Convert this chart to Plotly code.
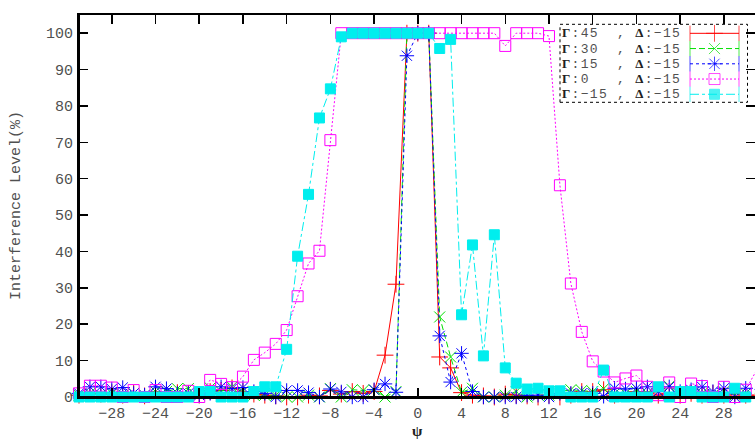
import plotly.graph_objects as go

# ---------------- data ----------------
psi = list(range(-31, 32))

gamma45 = [0.5, 1.0, 0.8, 1.2, 0.5, 1.0, 0.3, 1.5, 0.8, 1.2, 1.0, 0.5, 1.5, 1.8, 2.5, 1.5,
           0.8, 0.5, 0.3, 0.0, 0.0, 0.5, 0.3, 1.8, 0.8, 1.5, 1.0, 1.5, 11.5, 31.0, 100, 100,
           100, 11.0, 8.0, 1.2, 0.5, 0.3, 0.0, 0.8, 0.5, 0.3, 0.0, 0.5, 0.0, 0.5, 1.5, 1.5,
           2.0, 0.5, 1.0, 1.5, 1.5, 0.5, 1.0, 0.5, 1.0, 0.5, 1.0, 0.5, 1.0, 0.5, 0.5]

gamma30 = [0.5, 1.0, 0.5, 1.0, 0.5, 1.0, 0.5, 1.5, 1.5, 2.3, 2.3, 1.0, 2.5, 1.5, 2.8, 1.5,
           0.5, 0.5, 0.5, 0.0, 0.0, 0.5, 0.0, 2.3, 0.0, 2.0, 1.8, 2.0, 0.0, 1.5, 100, 100,
           100, 22.0, 11.0, 1.3, 2.4, 0.0, 0.0, 0.5, 1.5, 0.0, 0.5, 0.5, 1.5, 2.0, 1.8, 1.5,
           2.3, 1.0, 1.0, 1.5, 1.0, 1.5, 3.0, 1.0, 1.5, 1.0, 0.5, 1.5, 0.5, 1.0, 1.0]

gamma15 = [1.0, 2.8, 2.8, 2.2, 2.6, 1.0, 0.5, 2.8, 2.3, 1.0, 1.0, 0.5, 1.0, 2.8, 2.3, 2.6,
           1.5, 1.0, 0.0, 1.8, 1.8, 1.2, 0.0, 2.2, 1.4, 0.0, 0.0, 2.0, 3.6, 1.3, 93.8, 100,
           100, 16.8, 4.1, 12.0, 1.5, 0.0, 0.0, 0.0, 0.0, 0.5, 0.5, 0.0, 1.0, 1.0, 1.0, 1.0,
           0.2, 2.4, 2.2, 2.4, 2.8, 1.5, 2.8, 1.5, 2.0, 2.8, 1.5, 2.4, 0.0, 2.4, 2.0]

gamma0 = [1.0, 3.1, 3.1, 2.6, 0.0, 1.9, 0.0, 1.9, 0.0, 0.0, 1.7, 0.0, 4.7, 3.6, 2.7, 5.6,
          10.2, 12.2, 14.6, 18.4, 27.7, 36.7, 40.2, 70.6, 100, 100, 100, 100, 100, 100, 100, 100,
          100, 100, 100, 100, 100, 100, 100, 96.5, 100, 100, 100, 99.2, 58.2, 31.2, 17.9, 9.8,
          7.0, 4.0, 5.1, 5.9, 2.8, 0.5, 4.0, 0.0, 3.7, 3.0, 0.0, 2.8, 0.0, 2.0, 7.4]

gamma_m15 = [0.0, 0.0, 0.0, 0.0, 0.0, 0.0, 0.0, 0.0, 0.0, 0.0, 0.0, 1.5, 1.5, 0.0, 0.0, 0.0,
             1.5, 2.8, 2.8, 13.1, 38.7, 55.7, 76.7, 84.7, 99.0, 100, 100, 100, 100, 100, 100, 100,
             100, 95.8, 98.3, 22.6, 41.8, 11.3, 44.6, 8.0, 3.8, 2.2, 2.4, 1.7, 1.7, 0.0, 0.0, 0.0,
             7.4, 0.0, 0.0, 0.0, 0.0, 2.8, 0.0, 1.5, 1.5, 0.0, 0.0, 0.0, 2.4, 0.0, 0.0]

series_labels = ["45", "30", "15", "0", "\u221215"]
delta_label = "\u221215"

x_ticks = list(range(-28, 29, 4))
y_ticks = list(range(0, 101, 10))

# ---------------- styling ----------------
W, H = 755, 441
ML, MR, MT, MB = 79, 0, 15, 44
PW, PH = W - ML - MR, H - MT - MB

def fx(p):
    return (p - ML) / PW

def fy(p):
    return (H - MB - p) / PH

FONT = "Liberation Mono"
TXT = "#505050"

styles = [
    dict(color="#ff0000", dash="solid", symbol="cross-thin-open", size=12),
    dict(color="#00e000", dash="6px,3px", symbol="x-thin-open", size=11),
    dict(color="#0000ff", dash="3px,3px", symbol="asterisk-open", size=12),
    dict(color="#ff00ff", dash="2px,2px", symbol="square-open", size=11),
    dict(color="#00eeee", dash="dashdot", symbol="square", size=10),
]
data = [gamma45, gamma30, gamma15, gamma0, gamma_m15]

fig = go.Figure()

for vals, st in zip(data, styles):
    fig.add_trace(go.Scatter(
        x=psi, y=vals, mode="lines+markers", cliponaxis=False, showlegend=False,
        line=dict(color=st["color"], width=1, dash=st["dash"]),
        marker=dict(symbol=st["symbol"], size=st["size"], color=st["color"],
                    line=dict(color=st["color"], width=1)),
    ))

# right-hand ticks without a visible line
fig.add_trace(go.Scatter(x=[None], y=[None], yaxis="y3", showlegend=False, hoverinfo="skip"))

# legend samples (drawn in a small helper axis)
for i, st in enumerate(styles):
    fig.add_trace(go.Scatter(
        x=[0, 0.5, 1], y=[i, i, i], xaxis="x2", yaxis="y2", mode="lines+markers",
        showlegend=False, cliponaxis=False, hoverinfo="skip",
        line=dict(color=st["color"], width=1, dash=st["dash"]),
        marker=dict(symbol=["line-ns-open", st["symbol"], "line-ns-open"],
                    size=[11, st["size"], 11], color=st["color"],
                    line=dict(color=st["color"], width=1)),
    ))

axis_common = dict(showgrid=False, zeroline=False, linecolor="black", linewidth=2,
                   ticks="inside", ticklen=9, tickwidth=1.5, tickcolor="black",
                   tickfont=dict(family=FONT, size=15, color=TXT))

fig.update_layout(
    width=W, height=H, margin=dict(l=ML, r=MR, t=MT, b=MB),
    paper_bgcolor="white", plot_bgcolor="white", showlegend=False,
    xaxis=dict(range=[-31, -31 + PW / 10.93], tickmode="array", tickvals=x_ticks,
               ticktext=[str(v).replace("-", "\u2212") for v in x_ticks],
               showline=True, mirror="ticks", ticklabelstandoff=1, **axis_common),
    yaxis=dict(range=[0, 105], tickmode="array", tickvals=y_ticks,
               ticktext=[str(v) for v in y_ticks], showline=True, mirror=False,
               ticklabelstandoff=1, **axis_common),
    yaxis3=dict(range=[0, 105], overlaying="y", side="right", anchor="x",
                tickmode="array", tickvals=y_ticks, showticklabels=False, showline=False,
                showgrid=False, zeroline=False, ticks="inside", ticklen=9, tickwidth=1.5,
                tickcolor="black"),
    xaxis2=dict(domain=[fx(690), fx(739)], range=[0, 1], anchor="y2", visible=False,
                fixedrange=True),
    yaxis2=dict(domain=[fy(101.9), fy(25.7)], range=[4.5, -0.5], anchor="x2",
                visible=False, fixedrange=True),
)

# axis lines redrawn above the unclipped markers (as in the original)
fig.add_shape(type="line", xref="paper", yref="paper", x0=0, x1=1, y0=0, y1=0,
              line=dict(color="black", width=2), layer="above")
fig.add_shape(type="line", xref="paper", yref="paper", x0=0, x1=0, y0=0, y1=1,
              line=dict(color="black", width=2), layer="above")

# legend box
fig.add_shape(type="rect", xref="paper", yref="paper", x0=fx(560), x1=fx(747.5),
              y0=fy(102.3), y1=fy(24.3), line=dict(color="black", width=1, dash="dot"),
              fillcolor="rgba(0,0,0,0)", layer="above")

SYM = '<span style="font-family:Liberation Serif;font-weight:bold;fill:#202020">{}</span>'
NB = "\u00a0"
for i, lab in enumerate(series_labels):
    yc = fy(33.3 + 15.2 * i)
    left = SYM.format("\u0393") + ":" + lab
    pad = NB * max(1, 4 - len(lab))
    text = left + pad + "," + NB + SYM.format("\u0394") + ":" + delta_label
    text = '<span style="letter-spacing:1.3px">' + text + "</span>"
    fig.add_annotation(x=fx(560), y=yc, xref="paper", yref="paper", xanchor="left",
                       yanchor="middle", showarrow=False, text=text,
                       font=dict(family=FONT, size=13, color=TXT))

# axis titles
fig.add_annotation(x=fx(16), y=fy(206), xref="paper", yref="paper", textangle=-90,
                   showarrow=False, text="Interference Level(%)", xanchor="center",
                   yanchor="middle", font=dict(family=FONT, size=15, color=TXT))
fig.add_annotation(x=fx(418), y=fy(441), xref="paper", yref="paper", showarrow=False,
                   text="<b>\u03c8</b>", xanchor="center", yanchor="bottom",
                   font=dict(family="Liberation Serif", size=15, color="#202020"))

fig.write_html(
    "out.html",
    config={"displayModeBar": False, "staticPlot": True},
    post_script="document.body.style.margin='0';document.body.style.padding='0';"
                "document.body.style.overflow='hidden';",
)
